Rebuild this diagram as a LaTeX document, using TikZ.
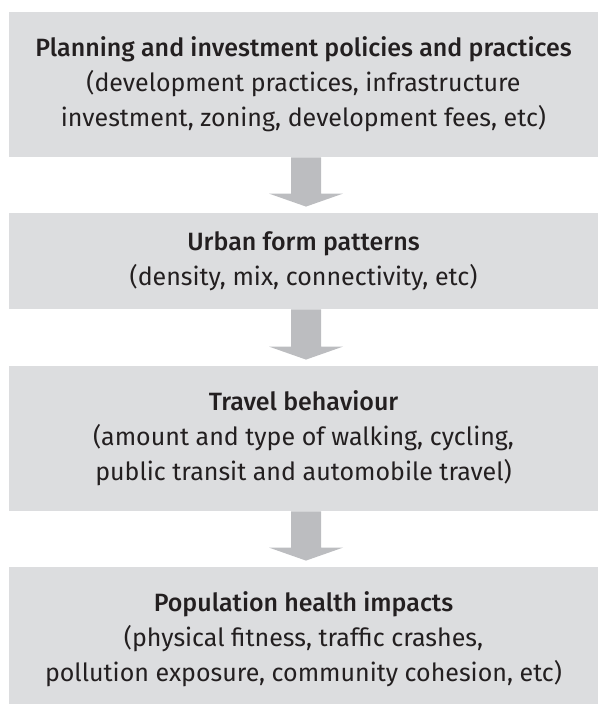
\documentclass[tikz,border=0pt]{standalone}
\usepackage{fontspec}
\setmainfont{Fira Sans}[BoldFont={Fira Sans Medium}]
\usepackage{tikz}
\usetikzlibrary{calc}

\definecolor{boxGrey}{RGB}{220,221,223}
\definecolor{arrowGrey}{RGB}{188,189,192}
\definecolor{textDark}{RGB}{35,31,32}

\begin{document}
\begin{tikzpicture}[
    x=0.5pt, y=-0.5pt,
    stageBox/.style={fill=boxGrey, minimum width=294.5pt, inner sep=0pt,
        align=center, text=textDark,
        font=\fontsize{12.5}{17.5}\selectfont},
    tallHeight/.style={minimum height=72.5pt},
    shortHeight/.style={minimum height=48pt},
    arrowFill/.style={fill=arrowGrey},
    every node/.style={
        text centered,
        }
        ]
    \useasboundingbox (0, 0) rectangle (598, 704);

    \node[stageBox, tallHeight] (plan) at (303.5, 84.5) {\textbf{Planning and investment policies and practices}\\(development practices, infrastructure\\investment, zoning, development fees, etc)};

    \node[stageBox, shortHeight] (form) at (303.5, 261) {\textbf{Urban form patterns}\\(density, mix, connectivity, etc)};

    \node[stageBox, tallHeight] (travel) at (303.5, 438.5) {\textbf{Travel behaviour}\\(amount and type of walking, cycling,\\public transit and automobile travel)};

    \node[stageBox, tallHeight] (health) at (303.5, 639.5) {\textbf{Population health impacts}\\(physical fitness, traffic crashes,\\pollution exposure, community cohesion, etc)};

    \foreach \from/\to in {plan/form, form/travel, travel/health} {
        \coordinate (s) at ($(\from.south) + (2.5, 0)$);
        \coordinate (t) at ($(\to.north) + (2.5, -6)$);
        \fill[arrowFill] ($(s) + (-15, 0)$) -- ($(t) + (-15, -13)$) -- ($(t) + (-37, -13)$) -- (t) -- ($(t) + (37, -13)$) -- ($(t) + (15, -13)$) -- ($(s) + (15, 0)$) -- cycle;
    }
\end{tikzpicture}
\end{document}
